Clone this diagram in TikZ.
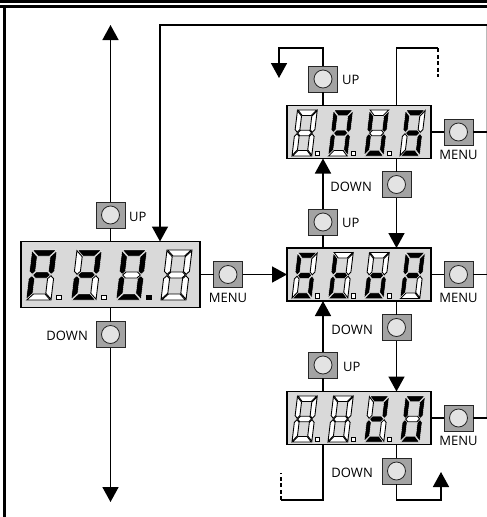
\documentclass[tikz,border=0pt]{standalone}
\usepackage{fontspec}
\setmainfont{Open Sans}
\usetikzlibrary{arrows.meta}
\definecolor{dispbg}{HTML}{D9D9D9}
\definecolor{btnbg}{HTML}{A3A3A3}
\definecolor{btnc}{HTML}{E3E3E3}
\tikzset{
 ln/.style={line width=1.6pt},
 arr/.style={-{Triangle[width=16pt,length=15pt]}},
 dsh/.style={dash pattern=on 4pt off 2.5pt},
 disp/.style={draw, line width=1.5pt, fill=dispbg, inner sep=0pt, outer sep=0pt},
 btn/.style={draw=black!85, line width=1pt, fill=btnbg, minimum width=29pt, minimum height=26pt, inner sep=0pt, outer sep=0pt,
   path picture={\draw[line width=0.8pt, fill=btnc] (path picture bounding box.center) circle[radius=9pt];}},
 lbl/.style={font=\fontsize{13}{15}\selectfont, inner sep=0pt},
 litseg/.style={fill=black, draw=white, line width=0.35pt},
 offseg/.style={fill=white, draw=black, line width=0.9pt},
 litdp/.style={fill=black, draw=black, line width=0.5pt},
}
\newcommand\sg[2]{\ifnum#1=1 \filldraw[litseg] #2;\else\filldraw[offseg] #2;\fi}
\newcommand\dg[9]{%
\begin{scope}[shift={(#1)}, x={(\dsx,0pt)}, y={(\dsk,\dsy)}]
\sg{#2}{(0.7,50)--(24.3,50)--(18.3,44)--(6.7,44)--cycle}
\sg{#3}{(25,49.3)--(19,43.3)--(19,28.7)--(22,25.7)--(25,28.7)--cycle}
\sg{#4}{(25,0.7)--(19,6.7)--(19,21.3)--(22,24.3)--(25,21.3)--cycle}
\sg{#5}{(0.7,0)--(24.3,0)--(18.3,6)--(6.7,6)--cycle}
\sg{#6}{(0,0.7)--(6,6.7)--(6,21.3)--(3,24.3)--(0,21.3)--cycle}
\sg{#7}{(0,49.3)--(6,43.3)--(6,28.7)--(3,25.7)--(0,28.7)--cycle}
\sg{#8}{(3.7,25)--(6.7,28)--(18.3,28)--(21.3,25)--(18.3,22)--(6.7,22)--cycle}
\ifcase#9\relax\or\filldraw[offseg](30,0.5) rectangle (34.5,5);\or\filldraw[litdp](30,0.5) rectangle (34.5,5);\fi
\end{scope}}
\begin{document}
\begin{tikzpicture}[x=1pt,y=-1pt]
\useasboundingbox (0,0) rectangle (487,517);
\fill[white] (0,0) rectangle (487,517);
% frame
\fill (0,0) rectangle (487,2.7);
\fill (0,5.3) rectangle (487,7.8);
\fill (2.7,7) rectangle (5.8,517);
\draw[gray!55, line width=1pt] (486.5,25) -- (486.5,418);
% displays
\node[disp, minimum width=179pt, minimum height=66pt] (P) at (110.5,274.5) {};
\node[disp, minimum width=144pt, minimum height=53pt] (A) at (359,132) {};
\node[disp, minimum width=144pt, minimum height=53pt] (S) at (359,274.5) {};
\node[disp, minimum width=144pt, minimum height=53pt] (T) at (359,418) {};
% buttons
\node[btn] (LU) at (110.5,215) {};
\node[btn] (LD) at (110.5,334.5) {};
\node[btn] (PM) at (228,274.5) {};
\node[btn] (AU) at (323,79) {};
\node[btn] (AM) at (458.5,132) {};
\node[btn] (AD) at (396.5,184.5) {};
\node[btn] (SU) at (323,222) {};
\node[btn] (SM) at (458.5,274.5) {};
\node[btn] (SD) at (396.5,327.5) {};
\node[btn] (TU) at (323,365) {};
\node[btn] (TM) at (458.5,418) {};
\node[btn] (TD) at (396.5,471) {};
% labels
\node[lbl, anchor=west] (LUl) at (129,217) {UP};
\node[lbl, anchor=east] (LDl) at (88,336) {DOWN};
\node[lbl] (PMl) at (228,298) {MENU};
\node[lbl, anchor=west] (AUl) at (342,80) {UP};
\node[lbl] (AMl) at (458.5,154.5) {MENU};
\node[lbl, anchor=east] (ADl) at (372,186.5) {DOWN};
\node[lbl, anchor=west] (SUl) at (342,223) {UP};
\node[lbl] (SMl) at (458.5,297.5) {MENU};
\node[lbl, anchor=east] (SDl) at (373,330) {DOWN};
\node[lbl, anchor=west] (TUl) at (343,366.5) {UP};
\node[lbl] (TMl) at (458.5,441) {MENU};
\node[lbl, anchor=east] (TDl) at (373,472.5) {DOWN};
% connectors left
\coordinate (ltop) at (110.5,25);
\coordinate (lbot) at (110.5,502);
\coordinate (redge) at (487,25);
\coordinate (pin) at (160,25);
\draw[ln,arr] (LU.north) -- (ltop);
\draw[ln] (LU.south) -- (LU.south |- P.north);
\draw[ln] (P.south -| LD) -- (LD.north);
\draw[ln,arr] (LD.south) -- (lbot);
\draw[ln,arr] (redge) -- (pin) -- (pin |- P.north);
\draw[ln] (P.east) -- (PM.west);
\draw[ln,arr] (PM.east) -- (S.west);
% AUS
\coordinate (aul) at (279,48);
\coordinate (aulend) at (279,78);
\coordinate (aur) at (438,48);
\coordinate (aurend) at (438,77);
\draw[ln,arr] (AU.north) |- (aul) -- (aulend);
\draw[ln] (AU.south) -- (AU.south |- A.north);
\draw[ln] (A.north -| AD) |- (aur);
\draw[ln,dsh] (aur) -- (aurend);
\draw[ln] (A.east) -- (AM.west);
\draw[ln] (AM.east) -- (AM.east -| redge);
\draw[ln,arr] (SU.north) -- (SU.north |- A.south);
\draw[ln] (SU.south) -- (SU.south |- S.north);
\draw[ln] (A.south -| AD) -- (AD.north);
\draw[ln,arr] (AD.south) -- (AD.south |- S.north);
% Stop
\draw[ln] (S.east) -- (SM.west);
\draw[ln] (SM.east) -- (SM.east -| redge);
\draw[ln,arr] (TU.north) -- (TU.north |- S.south);
\draw[ln] (TU.south) -- (TU.south |- T.north);
\draw[ln] (S.south -| SD) -- (SD.north);
\draw[ln,arr] (SD.south) -- (SD.south |- T.north);
% bottom display
\coordinate (tbl) at (281,500);
\coordinate (tblend) at (281,473);
\coordinate (tbr) at (441,500);
\coordinate (tbrend) at (441,472);
\draw[ln] (T.east) -- (TM.west);
\draw[ln] (TM.east) -- (TM.east -| redge);
\draw[ln] (T.south -| TU) |- (tbl);
\draw[ln,dsh] (tbl) -- (tblend);
\draw[ln] (T.south -| TD) -- (TD.north);
\draw[ln,arr] (TD.south) |- (tbr) -- (tbrend);
% digits
\def\dsx{1pt}\def\dsy{1pt}\def\dsk{0.12pt}
\dg{26,300}{1}{1}{0}{0}{1}{1}{1}{1}
\dg{71,300}{1}{1}{0}{1}{1}{0}{1}{1}
\dg{116,300}{1}{1}{1}{1}{1}{1}{0}{2}
\dg{161,300}{0}{0}{0}{0}{0}{0}{0}{0}
\def\dsx{0.79pt}\def\dsy{0.92pt}\def\dsk{0.11pt}
\dg{292,156}{0}{0}{0}{0}{0}{0}{0}{1}
\dg{328,156}{1}{1}{1}{0}{1}{1}{1}{1}
\dg{364,156}{0}{1}{1}{1}{1}{1}{0}{1}
\dg{400,156}{1}{0}{1}{1}{0}{1}{1}{0}
\dg{292,298.5}{1}{0}{1}{1}{0}{1}{1}{1}
\dg{328,298.5}{0}{0}{0}{1}{1}{1}{1}{1}
\dg{364,298.5}{0}{0}{1}{1}{1}{0}{1}{1}
\dg{400,298.5}{1}{1}{0}{0}{1}{1}{1}{0}
\dg{292,442}{0}{0}{0}{0}{0}{0}{0}{1}
\dg{328,442}{0}{0}{0}{0}{0}{0}{0}{1}
\dg{364,442}{1}{1}{0}{1}{1}{0}{1}{1}
\dg{400,442}{1}{1}{1}{1}{1}{1}{0}{0}
\end{tikzpicture}
\end{document}
